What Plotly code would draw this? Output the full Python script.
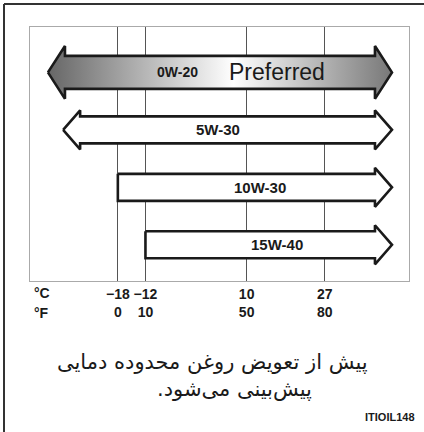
import plotly.graph_objects as go

# ---------------- data ----------------
grades = ['0W-20', '5W-30', '10W-30', '15W-40']
low_c = [None, None, -18, -12]          # None -> no lower limit (arrow both ways)
temps_c = [-18, -12, 10, 27]
temps_f = [0, 10, 50, 80]
caption_1 = 'پیش از تعویض روغن محدوده دمایی'
caption_2 = 'پیش‌بینی می‌شود.'
ref_code = 'ITIOIL148'

# ---------------- layout constants ----------------
W, H = 424, 432
x_range = [-37.1, 45.3]
y_range = [3.63, -0.79]
head_len = 3.7
tip_r = x_range[1] - head_len
tip_l = [x_range[0] + 3.9, x_range[0] + 7.2]
label_x = [-5, 3.7, 12.9, 16.6]
ink = '#1a1a1a'
font = 'Liberation Sans, Arial, sans-serif'


def double_arrow(xl, xr, c, h, hh, L):
    xs = [xl, xl + L, xl + L, xr - L, xr - L, xr, xr - L, xr - L, xl + L, xl + L, xl]
    ys = [c, c - hh, c - h, c - h, c - hh, c, c + hh, c + h, c + h, c + hh, c]
    return xs, ys


def right_arrow(x0, xr, c, h, hh, L):
    xs = [x0, xr - L, xr - L, xr, xr - L, xr - L, x0, x0]
    ys = [c - h, c - h, c - hh, c, c + hh, c + h, c + h, c - h]
    return xs, ys


fig = go.Figure()

for i, g in enumerate(grades):
    if i == 0:
        h, hh = 0.287, 0.46
    else:
        h, hh = 0.235, 0.34
    if low_c[i] is None:
        xs, ys = double_arrow(tip_l[i], tip_r, i, h, hh, head_len)
    else:
        xs, ys = right_arrow(low_c[i], tip_r, i, h, hh, head_len)
    kw = dict(fillcolor='white')
    if i == 0:
        kw = dict(fillgradient=dict(type='horizontal',
                                    colorscale=[[0, '#666666'], [0.54, '#ffffff'], [1, '#787878']]))
    fig.add_trace(go.Scatter(x=xs, y=ys, mode='lines', fill='toself',
                             line=dict(color=ink, width=2.6),
                             hoverinfo='skip', showlegend=False, **kw))

# grade labels
fig.add_annotation(x=label_x[0], y=0, text='<b>' + grades[0] + '</b>', showarrow=False,
                   font=dict(family=font, size=14, color=ink))
fig.add_annotation(x=16.6, y=0, text='Preferred', showarrow=False,
                   font=dict(family=font, size=23, color=ink))
for i in range(1, 4):
    fig.add_annotation(x=label_x[i], y=i, text='<b>' + grades[i] + '</b>', showarrow=False,
                       font=dict(family=font, size=15, color=ink))

# axis unit labels
fig.add_annotation(xref='paper', yref='paper', x=32 / W, y=1 - 293 / H, text='<b>°C</b>',
                   showarrow=False, xanchor='left', yanchor='middle',
                   font=dict(family=font, size=14, color=ink))
fig.add_annotation(xref='paper', yref='paper', x=32 / W, y=1 - 313 / H, text='<b>°F</b>',
                   showarrow=False, xanchor='left', yanchor='middle',
                   font=dict(family=font, size=14, color=ink))

# caption (RLM keeps the final period on the left)
fig.add_annotation(xref='paper', yref='paper', x=212 / W, y=1 - 362 / H, text='\u200f' + caption_1 + '\u200f',
                   showarrow=False, xanchor='center', yanchor='middle',
                   font=dict(family='DejaVu Sans', size=21, color=ink))
fig.add_annotation(xref='paper', yref='paper', x=235 / W, y=1 - 389 / H, text='\u200f' + caption_2 + '\u200f',
                   showarrow=False, xanchor='center', yanchor='middle',
                   font=dict(family='DejaVu Sans', size=21, color=ink))
fig.add_annotation(xref='paper', yref='paper', x=417 / W, y=1 - 417 / H, text='<b>' + ref_code + '</b>',
                   showarrow=False, xanchor='right', yanchor='middle',
                   font=dict(family=font, size=11, color=ink))

# outer frame (left + top edges)
fig.add_shape(type='line', xref='paper', yref='paper', x0=4 / W, x1=4 / W, y0=0, y1=1 - 4 / H,
              line=dict(color='#333', width=2))
fig.add_shape(type='line', xref='paper', yref='paper', x0=4 / W, x1=1, y0=1 - 4 / H, y1=1 - 4 / H,
              line=dict(color='#333', width=2))

fig.update_xaxes(domain=[30 / W, 409 / W], range=x_range, tickvals=temps_c,
                 ticktext=['<b>' + ('−' + str(-c) if c < 0 else str(c)) + '<br>' + str(f) + '</b>'
                           for c, f in zip(temps_c, temps_f)],
                 tickfont=dict(family=font, size=14, color=ink),
                 showgrid=True, gridcolor='#555', gridwidth=1, zeroline=False,
                 showline=True, mirror=True, linecolor='#aaa', linewidth=1,
                 ticks='', fixedrange=True)
fig.update_yaxes(domain=[1 - 281 / H, 1 - 27 / H], range=y_range, showgrid=False,
                 zeroline=False, showticklabels=False, showline=True, mirror=True,
                 linecolor='#aaa', linewidth=1, fixedrange=True)

fig.update_layout(width=W, height=H, margin=dict(l=0, r=0, t=0, b=0),
                  plot_bgcolor='white', paper_bgcolor='white')

fig.write_html('out.html', config={'displayModeBar': False},
               post_script="document.body.style.margin='0';document.body.style.overflow='hidden';")
